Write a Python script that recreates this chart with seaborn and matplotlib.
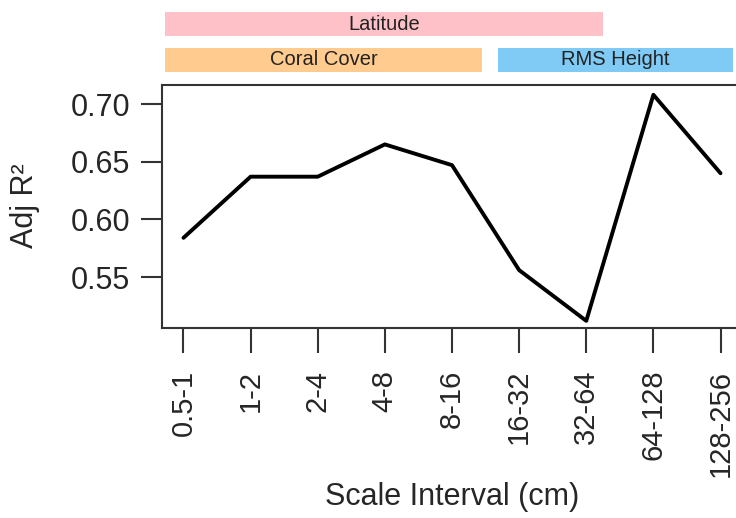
import matplotlib
matplotlib.use("Agg")
import matplotlib.pyplot as plt
import matplotlib.transforms as mtransforms
from matplotlib.patches import Rectangle
import seaborn as sns
import pandas as pd

categories = ["0.5-1", "1-2", "2-4", "4-8", "8-16", "16-32", "32-64", "64-128", "128-256"]
adj_r2 = [0.584, 0.637, 0.637, 0.665, 0.647, 0.556, 0.512, 0.708, 0.640]
y_ticks = [0.55, 0.60, 0.65, 0.70]
y_tick_labels = ["0.55", "0.60", "0.65", "0.70"]
band_labels = ["Latitude", "Coral Cover", "RMS Height"]
band_colors = ["#FFC1C8", "#FFCB8E", "#80CBF6"]

sns.set_theme(style="white")
plt.rcParams['font.family'] = ['Liberation Sans', 'DejaVu Sans']

df = pd.DataFrame({"interval": categories, "r2": adj_r2})

fig = plt.figure(figsize=(7.36, 5.18), dpi=100)
ax = fig.add_axes([162 / 736, 1 - 328 / 518, 580 / 736, 243 / 518])

sns.lineplot(data=df, x="interval", y="r2", ax=ax, color="black", linewidth=2.8, sort=False)

ax.set_xlim(-0.32, 8.32)
ax.set_ylim(0.5058, 0.7165)
ax.set_xticks(range(len(categories)))
ax.set_xticklabels(categories, rotation=90, fontsize=21)
ax.set_yticks(y_ticks)
ax.set_yticklabels(y_tick_labels, fontsize=22)

for s in ax.spines.values():
    s.set_color("#333333")
    s.set_linewidth(1.5)

ax.tick_params(axis="x", length=18, width=1.5, color="#333333", pad=12, direction="out", bottom=True)
ax.tick_params(axis="y", length=15, width=1.5, color="#333333", pad=8, direction="out", left=True)

ax.set_xlabel("Scale Interval (cm)", fontsize=22, va="center")
ax.set_ylabel("Adj R²", fontsize=22, va="center")
ax.xaxis.set_label_coords(0.5, -0.695)
ax.yaxis.set_label_coords(-0.236, 0.505)

trans = mtransforms.blended_transform_factory(ax.transData, ax.transAxes)
bands = [(-0.268, 6.25, 1.2016), (-0.268, 4.45, 1.0535), (4.69, 8.18, 1.0535)]
h = 0.0988
for (x0, x1, yb), lab, col in zip(bands, band_labels, band_colors):
    ax.add_patch(Rectangle((x0, yb), x1 - x0, h, transform=trans, facecolor=col,
                           edgecolor="none", clip_on=False))
    ax.text((x0 + x1) / 2, yb + h / 2, lab, transform=trans, ha="center", va="center",
            fontsize=14.5, color="#222222", clip_on=False)

fig.savefig("out.png", dpi=100)
